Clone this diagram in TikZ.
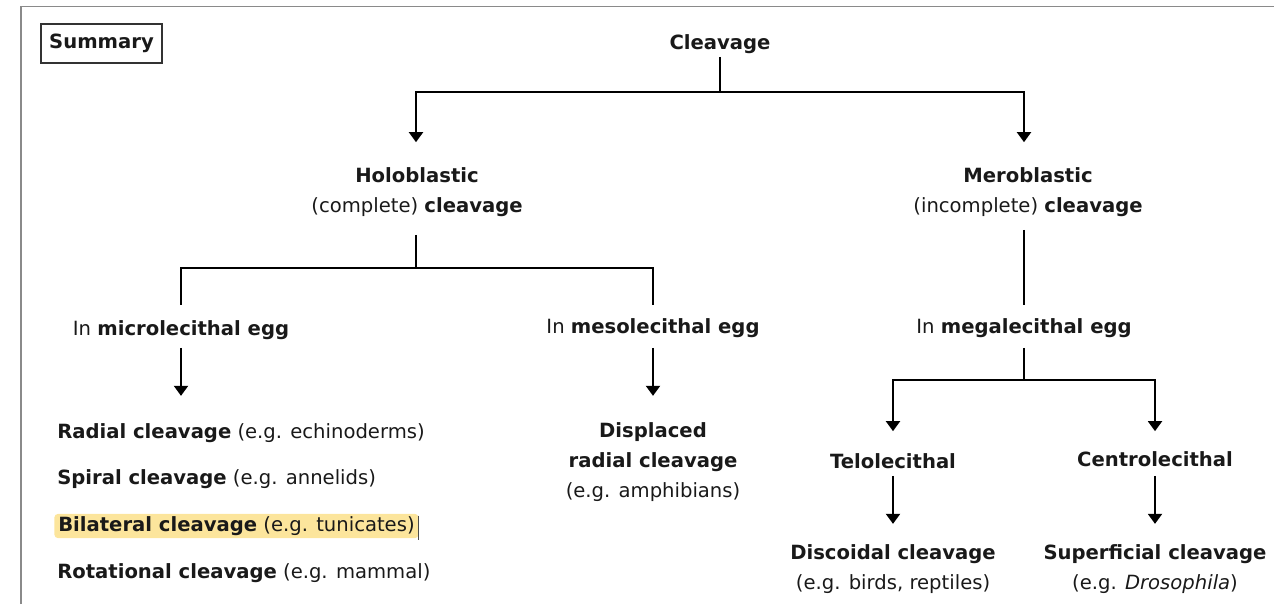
\documentclass[tikz,border=0pt]{standalone}
\usepackage{fontspec}
\setmainfont{DejaVu Sans}
\usetikzlibrary{arrows.meta,calc}
\definecolor{hl}{HTML}{FCE59C}
\definecolor{frame}{HTML}{8A8A8A}
\begin{document}
\begin{tikzpicture}[x=0.75pt,y=-0.75pt,
  txt/.style={inner sep=0pt, font=\fontsize{14.7}{22.5}\selectfont, align=center, text=black!90},
  ln/.style={line width=1.5pt},
  arr/.style={ln, -{Triangle[width=10.5pt,length=7.5pt]}},
]
\useasboundingbox (0,0) rectangle (1274,604);
\draw[frame, line width=1.2pt] (21,604) -- (21,6.5) -- (1274,6.5);

% Summary box
\node[txt, draw=black!80, line width=0.8pt, minimum width=121*0.75pt, minimum height=39*0.75pt] (sum) at (101.5,43.5) {\textbf{Summary}};

% top
\node[txt] (cleav) at (720,44) {\textbf{Cleavage}};
\coordinate (j1) at (720,92);
\node[txt] (holo) at (417,192) {\textbf{Holoblastic}\\(complete) \textbf{cleavage}};
\node[txt] (mero) at (1028,192) {\textbf{Meroblastic}\\(incomplete) \textbf{cleavage}};
\draw[ln] ($(cleav.south)+(0,3)$) -- (j1);
\draw[arr] (j1) -| ($(holo.north)+(-1,-25)$);
\draw[arr] (j1) -| ($(mero.north)+(-4,-25)$);

% holoblastic branch
\node[txt] (micro) at (181,330) {In \textbf{microlecithal egg}};
\node[txt] (meso) at (653,328) {In \textbf{mesolecithal egg}};
\coordinate (j2) at (416,268);
\draw[ln] ($(holo.south -| j2)+(0,18)$) -- (j2);
\draw[ln] (j2) -| ($(micro.north)+(0,-15)$);
\draw[ln] (j2) -| ($(meso.north)+(0,-13)$);

% meroblastic branch
\node[txt] (mega) at (1024,328) {In \textbf{megalecithal egg}};
\draw[ln] ($(mero.south -| mega.north)+(0,13)$) -- ($(mega.north)+(0,-13)$);

% microlecithal list
\node[txt, anchor=west] (radial) at (57,433) {\textbf{Radial cleavage} (e.g. echinoderms)};
\node[txt, anchor=west] (spiral) at (57,479) {\textbf{Spiral cleavage} (e.g. annelids)};
\node[txt, anchor=west, fill=hl, inner xsep=3pt, inner ysep=2pt, rounded corners=3pt] (bil) at (54,526) {\textbf{Bilateral cleavage} (e.g. tunicates)};
\draw[black!70, line width=0.7pt] ($(bil.north east)+(0,2)$) -- ($(bil.south east)+(0,1)$);
\node[txt, anchor=west] (rot) at (57,573) {\textbf{Rotational cleavage} (e.g. mammal)};
\draw[arr] ($(micro.south)+(0,8)$) -- ($(micro.south)+(0,56)$);

% mesolecithal
\node[txt] (disp) at (653,462) {\textbf{Displaced}\\\textbf{radial cleavage}\\(e.g. amphibians)};
\draw[arr] ($(meso.south)+(0,10)$) -- ($(meso.south)+(0,58)$);

% megalecithal
\coordinate (j3) at (1024,380);
\node[txt] (telo) at (893,461) {\textbf{Telolecithal}};
\node[txt] (centro) at (1155,459) {\textbf{Centrolecithal}};
\draw[ln] ($(mega.south)+(0,10)$) -- (j3);
\draw[arr] (j3) -| ($(telo.north)+(0,-22)$);
\draw[arr] (j3) -| ($(centro.north)+(0,-20)$);

\node[txt] (disc) at (893,569) {\textbf{Discoidal cleavage}\\(e.g. birds, reptiles)};
\node[txt] (sup) at (1155,569) {\textbf{Superficial cleavage}\\(e.g. \textit{Drosophila})};
\draw[arr] ($(telo.south)+(0,7)$) -- ($(telo.south)+(0,55)$);
\draw[arr] ($(centro.south)+(0,9)$) -- ($(centro.south)+(0,57)$);
\end{tikzpicture}
\end{document}
